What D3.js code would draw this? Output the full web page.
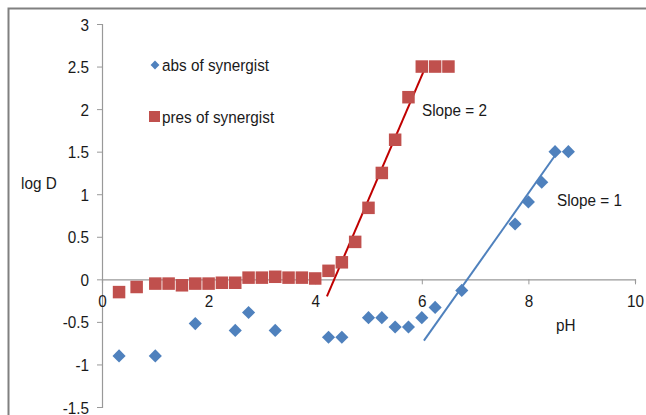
<!DOCTYPE html>
<html>
<head>
<meta charset="utf-8">
<script src="https://cdn.jsdelivr.net/npm/d3@7"></script>
<style>
  html, body { margin: 0; padding: 0; background: #fff; }
  svg { display: block; }
  text { font-family: "Liberation Sans", Arial, sans-serif; fill: #1a1a1a; }
</style>
</head>
<body>
<svg id="chart" width="646" height="415"></svg>
<script>
// Distribution ratio (log D) against pH, with and without the synergist
const xTicks = [0, 2, 4, 6, 8, 10];
const yTicks = [3, 2.5, 2, 1.5, 1, 0.5, 0, -0.5, -1, -1.5];

const absPH   = [0.32, 1.0, 1.75, 2.5, 2.75, 3.25, 4.25, 4.5, 5.0, 5.25, 5.5, 5.75, 6.0, 6.25, 6.75, 7.75, 8.0, 8.25, 8.5, 8.75];
const absLogD = [-0.9, -0.9, -0.52, -0.6, -0.39, -0.6, -0.68, -0.68, -0.45, -0.45, -0.56, -0.56, -0.45, -0.33, -0.13, 0.65, 0.91, 1.14, 1.5, 1.5];

const presPH   = [0.32, 0.65, 1.0, 1.25, 1.5, 1.75, 2.0, 2.25, 2.5, 2.75, 3.0, 3.25, 3.5, 3.75, 4.0, 4.25, 4.5, 4.75, 5.0, 5.25, 5.5, 5.75, 6.0, 6.25, 6.5];
const presLogD = [-0.15, -0.09, -0.05, -0.05, -0.07, -0.05, -0.05, -0.04, -0.04, 0.02, 0.02, 0.03, 0.02, 0.02, 0.01, 0.1, 0.2, 0.44, 0.84, 1.25, 1.64, 2.14, 2.5, 2.5, 2.5];

// Fitted straight lines drawn through the rising parts
const fitPres = { ph: [4.22, 6.1], logD: [-0.2, 2.54], label: "Slope = 2" };
const fitAbs  = { ph: [6.04, 8.54], logD: [-0.72, 1.49], label: "Slope = 1" };

const seriesNames = ["abs of synergist", "pres of synergist"];
const blue = "#4f81bd", red = "#c0504d", redLine = "#c00000";
const FS = 17, SQUEEZE = 0.9;   // narrow lettering

const svg = d3.select("#chart");

// outer frame edge
svg.append("path")
  .attr("d", "M8.5,415 L8.5,8.5 L646,8.5")
  .attr("fill", "none").attr("stroke", "#808080").attr("stroke-width", 2);

const x = d3.scaleLinear().domain([0, 10]).range([102, 635]);
const y = d3.scaleLinear().domain([-1.5, 3]).range([407, 24]);

// condensed text placed with its anchor at (px, py)
function label(px, py, str, anchor = "start") {
  return svg.append("text")
    .attr("transform", `translate(${px},${py}) scale(${SQUEEZE},1)`)
    .attr("text-anchor", anchor).attr("font-size", FS).text(str);
}

// y axis
const yAxis = svg.append("g").attr("transform", `translate(${x(0)},0)`)
  .call(d3.axisLeft(y).tickValues(yTicks).tickSize(5).tickPadding(0)
        .tickFormat(d => String(d)));
// x axis crossing at log D = 0
const xAxis = svg.append("g").attr("transform", `translate(0,${y(0)})`)
  .call(d3.axisBottom(x).tickValues(xTicks).tickSize(4).tickPadding(0)
        .tickFormat(d => String(d)));

[yAxis, xAxis].forEach(g => {
  g.select(".domain").attr("stroke", "#999").attr("stroke-width", 1.2);
  g.selectAll(".tick line").attr("stroke", "#999");
  g.selectAll(".tick text").attr("font-size", FS).attr("fill", "#1a1a1a")
    .style("font-family", '"Liberation Sans", Arial, sans-serif');
});
yAxis.selectAll(".tick text").attr("x", null).attr("dy", null)
  .attr("transform", `translate(-13,6) scale(${SQUEEZE},1)`);
xAxis.selectAll(".tick text").attr("y", null).attr("dy", null)
  .attr("transform", `translate(0,28) scale(${SQUEEZE},1)`);
xAxis.selectAll(".tick line").attr("y2", 5);

// axis titles
label(21, 189, "log D");
label(556, 331, "pH");

// fitted lines
const line = d3.line().x(d => x(d[0])).y(d => y(d[1]));
svg.append("path").datum(d3.zip(fitPres.ph, fitPres.logD))
  .attr("d", line).attr("fill", "none").attr("stroke", redLine).attr("stroke-width", 2);
svg.append("path").datum(d3.zip(fitAbs.ph, fitAbs.logD))
  .attr("d", line).attr("fill", "none").attr("stroke", blue).attr("stroke-width", 2);

// markers
const diamond = d3.symbol().type(d3.symbolDiamond2).size(110);
const square = 12.5;

svg.append("g").selectAll("rect").data(d3.zip(presPH, presLogD)).join("rect")
  .attr("x", d => x(d[0]) - square / 2).attr("y", d => y(d[1]) - square / 2)
  .attr("width", square).attr("height", square).attr("fill", red);

svg.append("g").selectAll("path").data(d3.zip(absPH, absLogD)).join("path")
  .attr("transform", d => `translate(${x(d[0])},${y(d[1])})`)
  .attr("d", diamond).attr("fill", blue);

// slope annotations
label(422, 116, fitPres.label);
label(557, 206, fitAbs.label);

// legend
svg.append("path").attr("transform", "translate(155,65)")
  .attr("d", d3.symbol().type(d3.symbolDiamond2).size(50)).attr("fill", blue);
label(162, 71, seriesNames[0]);
svg.append("rect").attr("x", 149).attr("y", 111).attr("width", 11).attr("height", 11).attr("fill", red);
label(162, 123, seriesNames[1]);
</script>
</body>
</html>
